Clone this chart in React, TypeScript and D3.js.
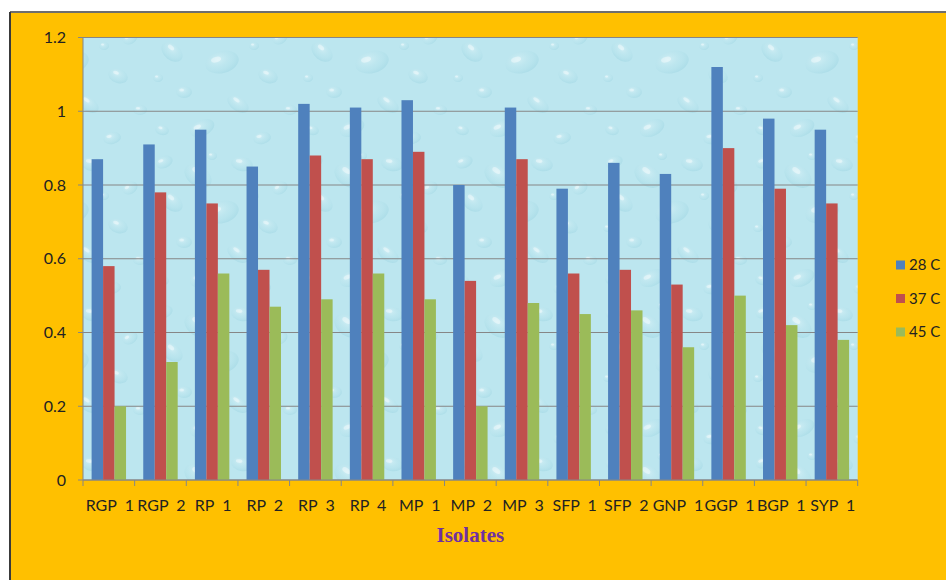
import React from "react";
import * as d3 from "d3";

const categories = ["RGP  1", "RGP  2", "RP  1", "RP  2", "RP  3", "RP  4", "MP  1", "MP  2", "MP  3", "SFP  1", "SFP  2", "GNP  1", "GGP  1", "BGP  1", "SYP  1"];
const seriesNames = ["28 C", "37 C", "45 C"];
const values28 = [0.87, 0.91, 0.95, 0.85, 1.02, 1.01, 1.03, 0.80, 1.01, 0.79, 0.86, 0.83, 1.12, 0.98, 0.95];
const values37 = [0.58, 0.78, 0.75, 0.57, 0.88, 0.87, 0.89, 0.54, 0.87, 0.56, 0.57, 0.53, 0.90, 0.79, 0.75];
const values45 = [0.20, 0.32, 0.56, 0.47, 0.49, 0.56, 0.49, 0.20, 0.48, 0.45, 0.46, 0.36, 0.50, 0.42, 0.38];
const yTicks = [0, 0.2, 0.4, 0.6, 0.8, 1, 1.2];
const colors = ["#4F81BD", "#C0504D", "#9BBB59"];

// decorative droplet texture (pattern tile): [cx, cy, rx, ry, rotation]
const drops: [number, number, number, number, number][] = [
  [14, 12, 9, 6, -20], [48, 26, 15, 10, 35], [92, 14, 11, 7, 10], [130, 38, 8, 6, -30],
  [22, 52, 12, 8, 40], [72, 62, 17, 11, -15], [118, 76, 10, 7, 20], [34, 92, 8, 6, 0],
  [88, 104, 12, 7, 35], [140, 110, 7, 5, 0], [62, 6, 5, 4, 0], [104, 46, 5, 4, 0],
  [8, 78, 5, 4, 0], [52, 128, 13, 8, -25], [12, 130, 7, 5, 15], [112, 138, 9, 6, -10],
];

export default function App() {
  const W = 946, H = 580;
  const left = 83, right = 857.7, top = 37.5, bottom = 480;

  const x0 = d3.scaleBand<string>().domain(categories).range([left, right]).paddingInner(0).paddingOuter(0);
  const x1 = d3.scaleBand<string>().domain(seriesNames).range([0, x0.bandwidth()]).paddingInner(0).paddingOuter(0.75);
  const y = d3.scaleLinear().domain([0, 1.2]).range([bottom, top]);
  const seriesValues = [values28, values37, values45];

  const font = "Lato, 'Open Sans', sans-serif";
  const textColor = "#222222";

  return (
    <svg width={W} height={H} style={{ position: "absolute", left: 0, top: 0 }}>
      <defs>
        <radialGradient id="dropG" cx="40%" cy="35%" r="70%">
          <stop offset="0%" stopColor="#E8F8FB" stopOpacity={0.8} />
          <stop offset="60%" stopColor="#B2E0EA" stopOpacity={0.4} />
          <stop offset="100%" stopColor="#8ECCDB" stopOpacity={0.6} />
        </radialGradient>
        <pattern id="drops" width={150} height={150} patternUnits="userSpaceOnUse">
          <rect width={150} height={150} fill="#BCE6EF" />
          {drops.map(([cx, cy, rx, ry, r], i) => (
            <g key={i} transform={`translate(${cx},${cy}) rotate(${r})`}>
              <ellipse rx={rx} ry={ry} fill="url(#dropG)" opacity={0.6} />
              <ellipse cx={-rx * 0.3} cy={-ry * 0.35} rx={rx * 0.3} ry={ry * 0.25} fill="#FFFFFF" opacity={0.4} />
            </g>
          ))}
        </pattern>
      </defs>
      <rect x={0} y={0} width={W} height={H} fill="#FFFFFF" />
      <rect x={10} y={12} width={W - 10} height={H - 12} fill="#FFC000" />
      <line x1={10} y1={12} x2={W} y2={12} stroke="#6E6E6E" strokeWidth={2} />
      <line x1={10} y1={12} x2={10} y2={H} stroke="#3A3A3A" strokeWidth={2} />

      <rect x={left} y={top} width={right - left} height={bottom - top} fill="url(#drops)" />

      {yTicks.map((t) => (
        <g key={t}>
          <line x1={left} x2={right} y1={y(t)} y2={y(t)} stroke="#868686" strokeWidth={1} />
          <line x1={left - 5} x2={left} y1={y(t)} y2={y(t)} stroke="#868686" strokeWidth={1} />
          <text x={66} y={y(t)} dy="0.35em" textAnchor="end" fontFamily={font} fontSize={16} fill={textColor}>
            {String(t)}
          </text>
        </g>
      ))}
      <line x1={left} x2={left} y1={top} y2={bottom} stroke="#868686" strokeWidth={1} />

      {categories.map((c, i) => (
        <g key={c}>
          {seriesNames.map((s, j) => {
            const v = seriesValues[j][i];
            const bx = (x0(c) as number) + (x1(s) as number);
            return <rect key={s} x={bx} y={y(v)} width={x1.bandwidth()} height={y(0) - y(v)} fill={colors[j]} />;
          })}
        </g>
      ))}

      {categories.map((c) => (
        <line key={"t" + c} x1={x0(c)} x2={x0(c)} y1={bottom} y2={bottom + 6} stroke="#868686" />
      ))}
      <line x1={right} x2={right} y1={bottom} y2={bottom + 6} stroke="#868686" />
      <line x1={left} x2={right} y1={bottom} y2={bottom} stroke="#868686" />

      {categories.map((c) => (
        <text key={"l" + c} x={(x0(c) as number) + x0.bandwidth() / 2 + 1} y={511} textAnchor="middle" fontFamily={font} fontSize={16} fill={textColor} style={{ whiteSpace: "pre" }}>
          {c}
        </text>
      ))}

      <text x={(left + right) / 2} y={542} textAnchor="middle" fontFamily="'Liberation Serif', 'Times New Roman', serif" fontWeight="bold" fontSize={21} fill="#7030A0">
        Isolates
      </text>

      {seriesNames.map((s, j) => {
        const ly = 265 + j * 33.5;
        return (
          <g key={s}>
            <rect x={896} y={ly - 4.5} width={9} height={9} fill={colors[j]} />
            <text x={909} y={ly} dy="0.35em" fontFamily={font} fontSize={15} fill={textColor}>
              {s}
            </text>
          </g>
        );
      })}
    </svg>
  );
}
